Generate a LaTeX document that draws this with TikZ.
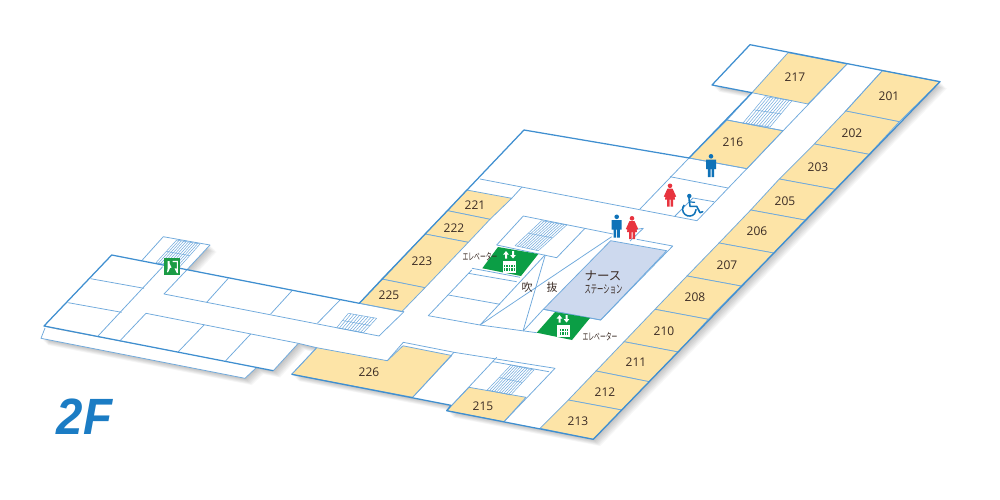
\documentclass[tikz,border=0pt]{standalone}
\usepackage{fontspec}
\setmainfont{Open Sans}
\newfontfamily\jpf{Noto Sans CJK JP}
\newfontfamily\bigf{Liberation Sans}
\usetikzlibrary{calc}
\definecolor{lnthin}{HTML}{6FA9DC}
\definecolor{lnthick}{HTML}{3F8FD0}
\definecolor{roomy}{HTML}{FDE4A7}
\definecolor{nursef}{HTML}{CDD9EE}
\definecolor{elevg}{HTML}{0B9E45}
\definecolor{exitg}{HTML}{1B9C45}
\definecolor{manb}{HTML}{0F72B8}
\definecolor{womr}{HTML}{E8343F}
\definecolor{numc}{HTML}{3B2C25}
\definecolor{titleb}{HTML}{1B7CC4}
\tikzset{
  thinl/.style={draw=lnthin,line width=0.75pt,line join=round},
  thickl/.style={draw=lnthick,line width=1.25pt,line join=round},
  room/.style={fill=roomy,thinl},
  hatchl/.style={draw=lnthin,line width=0.5pt},
  num/.style={font=\fontsize{12}{13}\selectfont,text=numc,inner sep=0pt},
  elabel/.style={font=\jpf\fontsize{10}{11}\selectfont,text=numc,inner sep=0pt,xscale=0.58},
}
% hatched stair: corners A B C D (clockwise from top-left)
\newcommand{\stairhatch}[4]{%
  \foreach \t in {0,0.1,...,1.01}{\draw[hatchl] ($#1!\t!#2$) -- ($#4!\t!#3$);}
  \draw[hatchl] #1 -- #2;
  \draw[hatchl] #4 -- #3;
  \draw[hatchl] ($#1!0.5!#4$) -- ($#2!0.5!#3$);
}
\newcommand{\manicon}[3]{%
  \begin{scope}[shift={(#1,#2)},scale=#3]
    \fill[manb] (0,2.3) circle (2.3);
    \fill[manb] (-5,5.5) -- (5,5.5) -- (5,15) -- (3.2,15) -- (3.2,23) -- (0.5,23) -- (0.5,15) -- (-0.5,15) -- (-0.5,23) -- (-3.2,23) -- (-3.2,15) -- (-5,15) -- cycle;
  \end{scope}}
\newcommand{\womanicon}[3]{%
  \begin{scope}[shift={(#1,#2)},scale=#3]
    \fill[womr] (0,2.3) circle (2.3);
    \fill[womr] (-2.6,5.2) -- (2.6,5.2) -- (6.2,13) -- (4.6,13.6) -- (5,16) -- (3,16) -- (3,23) -- (0.5,23) -- (0.5,16) -- (-0.5,16) -- (-0.5,23) -- (-3,23) -- (-3,16) -- (-5,16) -- (-4.6,13.6) -- (-6.2,13) -- cycle;
  \end{scope}}
\newcommand{\elevicon}[2]{%
  \begin{scope}[shift={(#1,#2)}]
    \fill[white] (-6.5,-5.5) rectangle (6.5,6.5);
    \fill[elevg] (-5.3,-1.5) rectangle (5.3,5.2);
    \foreach \q in {-4,-1.4,1.2,3.8}{\fill[white] (\q-0.6,-0.8) rectangle (\q+0.6,4.6);}
    \fill[white] (-5.3,1.4) rectangle (5.3,2.2);
    \fill[white] (-3.5,-15) -- (-0.6,-11.4) -- (-2.5,-11.4) -- (-2.5,-7.5) -- (-4.5,-7.5) -- (-4.5,-11.4) -- (-6.4,-11.4) -- cycle;
    \fill[white] (3.5,-7.5) -- (0.6,-11) -- (2.5,-11) -- (2.5,-15) -- (4.5,-15) -- (4.5,-11) -- (6.4,-11) -- cycle;
  \end{scope}}
\begin{document}
\begin{tikzpicture}[x=1pt,y=-1pt]
\useasboundingbox (0,0) rectangle (1000,500);
\fill[white] (0,0) rectangle (1000,500);
% soft shadows
\foreach \o in {1,...,8}{
  \fill[black,opacity=0.032,shift={(\o*0.85,\o*0.85)}]
    (750,44.7) -- (940,81.7) -- (593.3,439.3) -- (446.7,410.7) -- (451,405.3) -- (291.7,374.3) -- (316.7,347.7) -- (298.3,343.3) -- (273.3,370.7) -- (44,326) -- (111.7,255) -- (141.7,260.7) -- (163.3,236.7) -- (210,245) -- (186.7,270) -- (359.3,303.3) -- (524,130) -- (689,158) -- (752,92.7) -- (712,85) -- cycle;
  \fill[black,opacity=0.032,shift={(\o*0.85,\o*0.85)}]
    (44,328.3) -- (41,338.3) -- (245,378.3) -- (256.7,367.3) -- cycle;
}
% lower strip
\fill[white] (44,327) -- (41,338.3) -- (245,378.3) -- (256.7,367.3) -- cycle;
\draw[thinl] (45,328) -- (41,338.3) -- (245,378.3) -- (256.7,367.3);
% building
\fill[white] (750,44.7) -- (940,81.7) -- (593.3,439.3) -- (446.7,410.7) -- (451,405.3) -- (291.7,374.3) -- (316.7,347.7) -- (298.3,343.3) -- (273.3,370.7) -- (44,326) -- (111.7,255) -- (141.7,260.7) -- (163.3,236.7) -- (210,245) -- (186.7,270) -- (359.3,303.3) -- (524,130) -- (689,158) -- (752,92.7) -- (712,85) -- cycle;
% guest rooms
\draw[room] (788,52.7) -- (847,64) -- (808,104) -- (752,92.7) -- cycle;
\draw[room] (882.3,70.7) -- (940,81.7) -- (899.3,121.7) -- (845.7,111) -- cycle;
\draw[room] (845.7,111) -- (899.3,121.7) -- (869,154.3) -- (814.3,144) -- cycle;
\draw[room] (814.3,144) -- (869,154.3) -- (835,189.3) -- (779.3,179) -- cycle;
\draw[room] (779.3,179) -- (835,189.3) -- (805,220) -- (750.7,210) -- cycle;
\draw[room] (750.7,210) -- (805,220) -- (773.7,253) -- (719,243) -- cycle;
\draw[room] (719,243) -- (773.7,253) -- (741,286) -- (687,276) -- cycle;
\draw[room] (687,276) -- (741,286) -- (708.3,319.3) -- (655,309.3) -- cycle;
\draw[room] (655,309.3) -- (708.3,319.3) -- (678.3,352) -- (624,341.7) -- cycle;
\draw[room] (624,341.7) -- (678.3,352) -- (649.3,381.7) -- (596,371) -- cycle;
\draw[room] (596,371) -- (649.3,381.7) -- (621.7,410) -- (568.3,400) -- cycle;
\draw[room] (568.3,400) -- (621.7,410) -- (593.3,439.3) -- (540,428.3) -- cycle;
\draw[room] (727,120) -- (783,130.7) -- (747,168.7) -- (689,158) -- cycle;
\draw[room] (466.7,190) -- (511.7,198.3) -- (490,219.3) -- (447.7,210.7) -- cycle;
\draw[room] (447.7,210.7) -- (490,219.3) -- (468.3,242.3) -- (425,234) -- cycle;
\draw[room] (425,234) -- (468.3,242.3) -- (425,287.7) -- (381.7,279) -- cycle;
\draw[room] (381.7,279) -- (425,287.7) -- (401.7,311.7) -- (359.3,303.3) -- cycle;
\draw[room] (469,387.3) -- (526,397.3) -- (504,421.7) -- (446.7,410.7) -- cycle;
\draw[room] (316.7,347.7) -- (387.3,360.7) -- (403,345.8) -- (451.7,355.5) -- (412.7,397.3) -- (291.7,374.3) -- cycle;
% nurse station
\draw[thinl,fill=nursef] (610.7,240.7) -- (666.7,250.7) -- (600.7,320) -- (543.3,309.3) -- cycle;
% thin room lines - right wing
\draw[thinl] (847,64) -- (697,220.7);
\draw[thinl] (882.3,70.7) -- (845.7,111);
\draw[thinl] (783,130.7) -- (727,120) -- (752,92.7);
\draw[thinl] (689,158) -- (640,209);
\draw[thinl] (670,176.7) -- (728,188);
\draw[thinl] (689,158) -- (747,168.7);
\draw[thinl] (714,201.7) -- (693,198) -- (675,216);
\draw[thinl] (480,179) -- (697,220.7);
\draw[thinl] (522,187) -- (511.7,198.3);
% centre block
\draw[thinl] (523.3,216) -- (613,234) (634,229.7) -- (643.3,228.3) -- (630,241);
\draw[thinl] (636.7,239.3) -- (672.7,246) -- (600.7,320);
\draw[thinl] (496.7,245) -- (523.3,216);
\draw[thinl] (471.7,270) -- (428.3,315.7) -- (480,325) -- (536.7,332.7);
\draw[thinl] (585,228.3) -- (556.7,257.7) -- (496.7,245);
\draw[thinl] (472,268.3) -- (520,277.3);
\draw[thinl] (468.3,273.3) -- (516.7,281.7);
\draw[thinl] (448.3,295) -- (500,304.3);
\draw[thinl] (480,325) -- (545,255);
\draw[thinl] (523.3,330) -- (545,256);
\draw[thinl] (480,325) -- (611.7,236.7);
\draw[thinl] (523.3,331) -- (543.3,309.3);
\draw[thinl] (543.3,309.3) -- (600.7,320);
% stairs centre
\stairhatch{(541.7,220.7)}{(566.7,225)}{(538.3,250.7)}{(515,245.7)}
% elevators
\fill[elevg] (498,247) -- (538.3,254) -- (521,276) -- (482.3,268.3) -- cycle;
\fill[elevg] (555,312) -- (590,318) -- (572,340) -- (536.7,332.7) -- cycle;
\elevicon{509.5}{266}
\elevicon{563}{330}
% stair upper right
\stairhatch{(765,96.7)}{(792,100.7)}{(770,127)}{(743,123)}
% left wing
\draw[thinl] (186.7,270) -- (164,294) -- (379,336) -- (404,311.7);
\draw[thinl] (359.3,303.3) -- (404,311.7);
\draw[thinl] (340,300) -- (317.3,323.3);
\draw[thinl] (228.3,278.3) -- (206.7,302.3);
\draw[thinl] (291.7,291) -- (270.7,314);
\draw[thinl] (162.7,266.7) -- (98.3,335.7);
\draw[thinl] (90.7,278.7) -- (144,288.3);
\draw[thinl] (68.3,302.7) -- (121.7,312.3);
\draw[thinl] (298.3,343.3) -- (146,313.3) -- (120.7,340);
\draw[thinl] (204,325) -- (178.3,351.7);
\draw[thinl] (250.7,334) -- (225.7,360.7);
\draw[thinl] (298.3,343.3) -- (273.3,370.7);
\stairhatch{(348.3,313.3)}{(376.7,318.3)}{(363.3,332.7)}{(336.7,327.7)}
% top-left stair
\draw[thinl] (141.7,260.7) -- (163.3,236.7) -- (210,245) -- (186.7,270);
\stairhatch{(176.7,240)}{(200,244)}{(179.3,267.3)}{(156,262.7)}
% lower centre
\draw[thinl] (298.3,343.3) -- (316.7,347.7) -- (291.7,374.3);
\draw[thinl] (387.3,360.7) -- (403.3,342.3) -- (454,352.3) -- (412.7,397.3);
\draw[thinl] (454,352.3) -- (555,368.3) -- (504,421.7);
\draw[thinl] (496.7,357.3) -- (446.7,410.7);
\draw[thinl] (493,361.7) -- (549,371.7);
\stairhatch{(511,365)}{(534,370)}{(510.7,395)}{(487.3,390)}
% thick outline
\draw[thickl] (273.3,370.7) -- (44,326) -- (111.7,255) -- (359.3,303.3) -- (524,130) -- (689,158) -- (752,92.7) -- (712,85) -- (750,44.7) -- (940,81.7) -- (593.3,439.3) -- (446.7,410.7) -- (451,405.3) -- (291.7,374.3);
% exit sign
\fill[exitg] (164,258.3) rectangle (180,275);
\fill[white] (167.5,261) -- (169.5,261) -- (169.5,263.5) -- (171.5,267.5) -- (170,268) -- (168.5,271.5) -- (167,272.5) -- (167.7,268) -- cycle;
\fill[white] (172.5,260.8) -- (177.8,260.8) -- (177.8,273) -- (176.8,273) -- (174.5,268.3) -- (176.8,268.6) -- (176.8,262) -- (172.5,262) -- cycle;
% toilets
\manicon{616.7}{214.5}{1}
\womanicon{632}{216}{1}
\manicon{711}{154}{1}
\womanicon{670}{183.5}{1}
% wheelchair
\draw[manb,line width=1.5pt] (684.2,204.9) arc[start angle=-140,end angle=-360,radius=6.8];
\fill[manb] (689.3,196) circle (2.2);
\draw[manb,line width=1.6pt,line cap=round,line join=round] (689,198.5) -- (690,206.3) -- (696.7,206.3) -- (700,212.7) -- (702.7,211.7);
\draw[manb,line width=1.2pt] (689,201.8) -- (695,202.4);
% room numbers
\node[num] (r217) at (795,77) {217};
\node[num] (r201) at (889,96) {201};
\node[num] (r202) at (852,133) {202};
\node[num] (r203) at (818,167) {203};
\node[num] (r205) at (785,201) {205};
\node[num] (r206) at (757,231) {206};
\node[num] (r207) at (727,265) {207};
\node[num] (r208) at (695,297) {208};
\node[num] (r210) at (664,331) {210};
\node[num] (r211) at (636,362) {211};
\node[num] (r212) at (605,392) {212};
\node[num] (r213) at (578,421) {213};
\node[num] (r216) at (733,142) {216};
\node[num] (r221) at (475,205) {221};
\node[num] (r222) at (454,228) {222};
\node[num] (r223) at (422,261) {223};
\node[num] (r225) at (389,295) {225};
\node[num] (r226) at (369,372) {226};
\node[num] (r215) at (483,406) {215};
% Japanese labels
\node[inner sep=0pt,text=numc,font=\jpf\fontsize{12.5}{13}\selectfont] (ns1) at (603,276) {ナース};
\node[inner sep=0pt,text=numc,xscale=0.55,font=\jpf\fontsize{11.5}{12}\selectfont] (ns2) at (603.5,289.5) {ステーション};
\node[elabel] (ev1) at (480,257) {エレベーター};
\node[elabel] (ev2) at (600,337) {エレベーター};
\node[inner sep=0pt,text=numc,font=\jpf\fontsize{11}{12}\selectfont] (fu1) at (527,287) {吹};
\node[inner sep=0pt,text=numc,font=\jpf\fontsize{11}{12}\selectfont] (fu2) at (552,287) {抜};
\node[inner sep=0pt,text=titleb,xscale=0.93,font=\bigf\bfseries\itshape\fontsize{51}{52}\selectfont] (title) at (84.5,417) {2F};
\end{tikzpicture}
\end{document}
